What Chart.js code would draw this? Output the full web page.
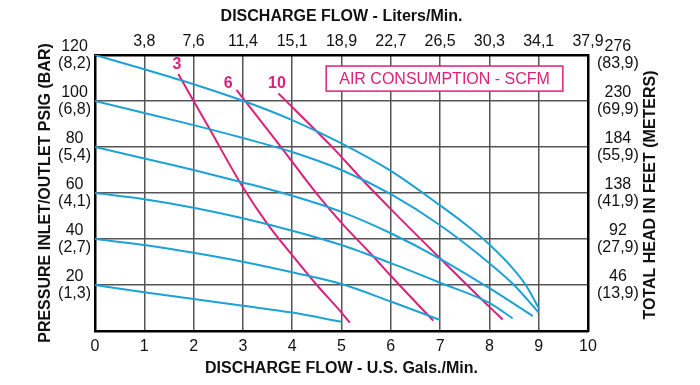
<!DOCTYPE html>
<html lang="en">
<head>
<meta charset="UTF-8">
<title>Discharge Flow - Pressure / Air Consumption</title>
<script src="https://cdn.jsdelivr.net/npm/chart.js"></script>
<style>
  body { margin: 0; background: #fff; }
  #pumpChart { display: block; }
</style>
</head>
<body>
<canvas id="pumpChart" width="700" height="385"></canvas>
<script>
// pressure curves, pairs of [US gpm, psig]
const psi120 = [[0,120],[1,113.8],[2,107.3],[3,100.1],[4,91.7],[5,81.6],[6,69.6],[7,54.6],[7.5,46.6],[8,37.6],[8.5,26.6],[8.75,19.6],[9,10]];
const psi100 = [[0,100],[1,94.8],[2,89.5],[3,83.9],[4,77.8],[5,70],[6,59.5],[7,46],[8,29.5],[8.5,20],[9,8]];
const psi80  = [[0,80],[1,75],[2,70],[3,64.6],[4,58.8],[5,51.8],[6,42.5],[7,31.4],[8,18.6],[8.88,6.5]];
const psi60  = [[0,60],[1,57.3],[2,53.6],[3,49],[4,43.6],[5,37.4],[6,29.5],[7,21],[8,12.2],[8.47,5.5]];
const psi40  = [[0,40],[1,37.4],[2,34],[3,30.1],[4,25.5],[5,20.4],[6,12.8],[7,4.8]];
const psi20  = [[0,20],[1,16.8],[2,13.9],[3,11],[4,8],[5,4]];

// air consumption lines (SCFM)
const scfm3  = [[1.69,111.7],[2.3,88.8],[3,62.5],[3.5,46.5],[4,33],[4.5,20],[5,8],[5.17,3.6]];
const scfm6  = [[2.87,104.8],[3.7,82],[4.5,59.6],[5,47],[5.65,32.3],[6,24],[6.86,4.5]];
const scfm10 = [[3.72,103.3],[4.77,80.9],[5.5,64],[6,53],[7,31.6],[8,10.5],[8.27,5]];
const scfmNames = ['3', '6', '10'];

// tick labels
const litersTicks = ['3,8','7,6','11,4','15,1','18,9','22,7','26,5','30,3','34,1','37,9'];
const psiTicks = [20, 40, 60, 80, 100, 120];
const barTicks = ['(1,3)','(2,7)','(4,1)','(5,4)','(6,8)','(8,2)'];
const feetTicks = ['46','92','138','184','230','276'];
const meterTicks = ['(13,9)','(27,9)','(41,9)','(55,9)','(69,9)','(83,9)'];

const BLUE = '#1da2d6';
const PINK = '#dc1f7a';
const GRID = '#555';
const tickFont = { family: "'Liberation Sans', Arial, sans-serif", size: 16, lineHeight: 1.1 };
const titleFont = { family: "'Liberation Sans', Arial, sans-serif", size: 16, weight: 'bold' };

function toPoints(pairs) {
  return pairs.map(p => ({ x: p[0], y: p[1] }));
}

function line(pairs, color) {
  return {
    data: toPoints(pairs),
    borderColor: color,
    borderWidth: 2,
    pointRadius: 0,
    fill: false,
    tension: 0.4,
    cubicInterpolationMode: 'monotone',
    xAxisID: 'x',
    yAxisID: 'y'
  };
}

// labels, legend box and right-hand title
const extras = {
  id: 'extras',
  afterDraw(chart) {
    const { ctx } = chart;
    const x = chart.scales.x;
    const y = chart.scales.y;
    ctx.save();

    // curve numbers
    ctx.fillStyle = PINK;
    ctx.font = "bold 16px 'Liberation Sans', Arial, sans-serif";
    ctx.textAlign = 'center';
    ctx.textBaseline = 'middle';
    const labelAt = [[1.66, 116], [2.7, 107.4], [3.69, 107.4]];
    scfmNames.forEach((name, i) => {
      ctx.fillText(name, x.getPixelForValue(labelAt[i][0]), y.getPixelForValue(labelAt[i][1]));
    });

    // legend box
    const bx1 = x.getPixelForValue(4.69), bx2 = x.getPixelForValue(9.49);
    const by1 = y.getPixelForValue(115.2), by2 = y.getPixelForValue(104.3);
    ctx.fillStyle = '#fff';
    ctx.fillRect(bx1, by1, bx2 - bx1, by2 - by1);
    ctx.strokeStyle = PINK;
    ctx.lineWidth = 1.5;
    ctx.strokeRect(bx1, by1, bx2 - bx1, by2 - by1);
    ctx.fillStyle = PINK;
    ctx.font = "16px 'Liberation Sans', Arial, sans-serif";
    ctx.fillText('AIR CONSUMPTION - SCFM', (bx1 + bx2) / 2, (by1 + by2) / 2 + 1);

    // right axis title, reads bottom to top
    const r = chart.scales.y2;
    ctx.translate(r.right - 49, (y.top + y.bottom) / 2 + 2);
    ctx.rotate(-Math.PI / 2);
    ctx.fillStyle = '#111';
    ctx.font = "bold 16px 'Liberation Sans', Arial, sans-serif";
    ctx.fillText('TOTAL HEAD IN FEET (METERS)', 0, 0);
    ctx.restore();
  }
};

const ctx = document.getElementById('pumpChart').getContext('2d');
const pumpChart = new Chart(ctx, {
  type: 'line',
  data: {
    datasets: [
      line(psi120, BLUE), line(psi100, BLUE), line(psi80, BLUE),
      line(psi60, BLUE), line(psi40, BLUE), line(psi20, BLUE),
      line(scfm3, PINK), line(scfm6, PINK), line(scfm10, PINK)
    ]
  },
  options: {
    responsive: false,
    animation: false,
    devicePixelRatio: 1,
    layout: { padding: 0 },
    plugins: {
      legend: { display: false },
      tooltip: { enabled: false }
    },
    scales: {
      x: {
        type: 'linear',
        position: 'bottom',
        min: 0, max: 10,
        afterFit: s => { s.height = 54; },
        ticks: { stepSize: 1, padding: 7, color: '#111', font: tickFont, maxRotation: 0 },
        grid: { color: GRID, lineWidth: 1.5, drawTicks: false },
        border: { color: '#000', width: 2.5 },
        title: { display: true, text: 'DISCHARGE FLOW - U.S. Gals./Min.', color: '#111', font: titleFont, padding: { top: 0, bottom: 7 } }
      },
      x2: {
        type: 'linear',
        position: 'top',
        min: 0, max: 10,
        afterFit: s => { s.height = 55; },
        ticks: {
          stepSize: 1, padding: 5, color: '#111', font: tickFont, maxRotation: 0,
          callback: v => (v === 0 ? '' : litersTicks[v - 1])
        },
        grid: { display: false, drawTicks: false },
        border: { color: '#000', width: 2.5 },
        title: { display: true, text: 'DISCHARGE FLOW - Liters/Min.', color: '#111', font: titleFont, padding: { top: 7, bottom: 0 } }
      },
      y: {
        type: 'linear',
        position: 'left',
        min: 0, max: 120,
        afterFit: s => { s.width = 95; },
        ticks: {
          stepSize: 20, padding: 4, color: '#111', font: tickFont, crossAlign: 'center',
          callback: v => {
            const i = psiTicks.indexOf(v);
            return i < 0 ? '' : [String(v), barTicks[i]];
          }
        },
        grid: { color: GRID, lineWidth: 1.5, drawTicks: false },
        border: { color: '#000', width: 2.5 },
        title: { display: true, text: 'PRESSURE INLET/OUTLET PSIG (BAR)', color: '#111', font: titleFont, padding: { top: 36, bottom: 0 } }
      },
      y2: {
        type: 'linear',
        position: 'right',
        min: 0, max: 120,
        afterFit: s => { s.width = 112; },
        ticks: {
          stepSize: 20, padding: 9, color: '#111', font: tickFont, crossAlign: 'center',
          callback: v => {
            const i = psiTicks.indexOf(v);
            return i < 0 ? '' : [feetTicks[i], meterTicks[i]];
          }
        },
        grid: { display: false, drawTicks: false },
        border: { color: '#000', width: 2.5 }
      }
    }
  },
  plugins: [extras]
});
</script>
</body>
</html>
